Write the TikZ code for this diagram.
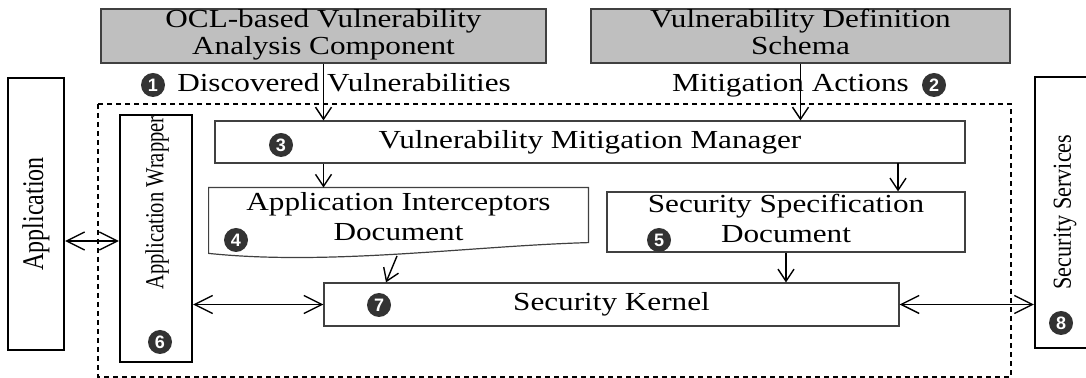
\documentclass[tikz,border=0pt]{standalone}
\usepackage{fontspec}
\setmainfont{Liberation Serif}
\newfontfamily\ballfont{Liberation Sans}
\usepackage{graphicx}
\usetikzlibrary{arrows.meta,calc}
\tikzstyle{plain box} = [draw=black!75,line width=0.6pt,inner sep=0pt]
\tikzstyle{heavy box} = [draw=black,line width=1.1pt,inner sep=0pt]
\newcommand{\widetext}[1]{\scalebox{1.2}[1]{#1}}
\newcommand{\slimtext}[2]{\scalebox{#1}[1]{#2}}

\begin{document}
\begin{tikzpicture}
[x=0.5pt,y=-0.5pt,
lineOut/.style={-{Straight Barb[length=6pt,width=8pt]},line width=0.7pt},
lineBoth/.style={{Straight Barb[length=9pt,width=9pt]}-{Straight Barb[length=9pt,width=9pt]},line width=0.7pt},
source/.style={plain box,fill=black!25},
caption/.style={font=\fontsize{13}{13.5}\selectfont},
docCaption/.style={font=\fontsize{13}{15}\selectfont},
sideCaption/.style={rotate=90,inner sep=0pt},
numBall/.style={circle,fill=black!80,text=white,inner sep=0pt,minimum size=12pt,font=\ballfont\bfseries\fontsize{9}{9}\selectfont}]

\useasboundingbox (0,0) rectangle (1086,378);

%% dashed frame round the mitigation part
\draw[dash pattern=on 2.5pt off 2pt,line width=0.6pt] (98,104) rectangle (1011,377);

%% boxes
\node[source,caption,minimum width=222.5pt,minimum height=27pt] (ocl) at (323.5,36)
  {\widetext{\begin{tabular}{@{}c@{}}OCL-based Vulnerability\\Analysis Component\end{tabular}}};
\node[source,caption,minimum width=209.5pt,minimum height=27pt] (vds) at (800.5,36)
  {\widetext{\begin{tabular}{@{}c@{}}Vulnerability Definition\\Schema\end{tabular}}};
\node[plain box,caption,minimum width=375pt,minimum height=21pt] (vmm) at (590,142)
  {\widetext{Vulnerability Mitigation Manager}};
\node[docCaption,inner sep=0pt,minimum width=189.5pt,minimum height=32pt] (aid) at (398.5,220)
  {\widetext{\begin{tabular}{@{}c@{}}Application Interceptors\\Document\end{tabular}}};
\draw[draw=black!75,line width=0.6pt] (aid.north west) -- (aid.north east) -- ($(aid.north east)+(0,55)$)
  .. controls (470,246) and (330,266) .. ($(aid.south west)+(0,1)$) -- cycle;
\node[plain box,docCaption,minimum width=179pt,minimum height=30pt] (ssd) at (786,222)
  {\widetext{\begin{tabular}{@{}c@{}}Security Specification\\Document\end{tabular}}};
\node[plain box,caption,minimum width=287.5pt,minimum height=21.5pt] (sk) at (611.5,304.5)
  {\widetext{Security Kernel}};
\node[heavy box,minimum width=36pt,minimum height=123.5pt] (aw) at (156,238.5) {};
\node[heavy box,minimum width=28pt,minimum height=136pt] (app) at (36,214) {};
\node[heavy box,minimum width=65pt,minimum height=135.5pt] (ss) at (1100,212.5) {};

%% upright texts of the side boxes
\node[sideCaption,font=\fontsize{15}{15}\selectfont] (appText) at (app) {\slimtext{0.8}{Application}};
\node[sideCaption,font=\fontsize{13}{13}\selectfont] (awText) at (157,203) {\slimtext{0.79}{Application Wrapper}};
\node[sideCaption,font=\fontsize{13}{13}\selectfont] (ssText) at (1065,212) {\slimtext{0.855}{Security Services}};

%% flow labels
\node[caption,anchor=base] (discLabel) at (344,92) {\widetext{Discovered Vulnerabilities}};
\node[caption,anchor=base] (mitLabel) at (790.5,92) {\widetext{Mitigation Actions}};

%% numbered balls
\foreach \num/\x/\y in {1/153/85, 2/934/85, 3/281/145, 4/236/240, 5/659/240, 6/160/342, 7/379/305, 8/1061/323}
{
\node[numBall] (ball\num) at (\x,\y) {\num};
}

%% connectors
\coordinate (vmmRight) at (898,163);
\coordinate (aidOut) at (397,256);
\coordinate (rowApp) at (0,241);
\draw[lineOut] (ocl.south) -- (ocl.south |- vmm.north);
\draw[lineOut] (vds.south) -- (vds.south |- vmm.north);
\draw[lineOut] (vmm.south -| ocl.south) -- (aid.north -| ocl.south);
\draw[lineOut] (vmmRight) -- (vmmRight |- ssd.north);
\draw[lineOut] (aidOut) -- ($(sk.north)+(-225.5,0)$);
\draw[lineOut] (ssd.south) -- (ssd.south |- sk.north);
\draw[lineBoth] (app.east |- rowApp) -- (aw.west |- rowApp);
\draw[lineBoth] (aw.east |- sk.west) -- (sk.west);
\draw[lineBoth] (sk.east) -- (sk.east -| ss.west);

\end{tikzpicture}
\end{document}
